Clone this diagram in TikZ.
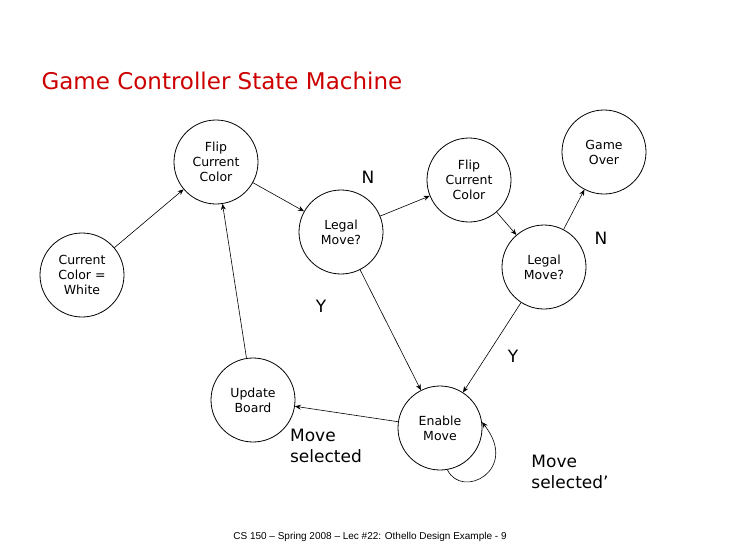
\documentclass[tikz,border=0pt]{standalone}
\usepackage{fontspec}
\setmainfont{DejaVu Sans}
\newfontfamily\footfont{Liberation Sans}
\usetikzlibrary{arrows.meta}
\begin{document}
\begin{tikzpicture}[x=1pt,y=-1pt,
    state/.style={circle,draw,thick,minimum size=84pt,inner sep=0pt,align=center,font=\fontsize{12.5}{15}\selectfont},
    trans/.style={draw,semithick,-{Stealth[length=6pt,width=5pt]}},
    cond/.style={font=\fontsize{17}{21}\selectfont,align=left}]
    \useasboundingbox (0,0) rectangle (730,547);

    \node[font=\fontsize{23}{27}\selectfont,text=red!80!black,anchor=west] (title) at (38,81) {Game Controller State Machine};

    \node[state] (ccw) at (82,275) {Current\\Color =\\White};
    \node[state] (flipa) at (216,162) {Flip\\Current\\Color};
    \node[state] (legala) at (341,232) {Legal\\Move?};
    \node[state] (flipb) at (469,180) {Flip\\Current\\Color};
    \node[state] (over) at (604,152) {Game\\Over};
    \node[state] (legalb) at (544,267) {Legal\\Move?};
    \node[state] (update) at (253,400) {Update\\Board};
    \node[state] (enable) at (440,428) {Enable\\Move};

    \path[trans] (ccw) -- (flipa);
    \path[trans] (flipa) -- (legala);
    \path[trans] (legala) -- (flipb);
    \path[trans] (legala) -- (enable);
    \path[trans] (flipb) -- (legalb);
    \path[trans] (legalb) -- (over);
    \path[trans] (legalb) -- (enable);
    \path[trans] (enable) -- (update);
    \path[trans] (update) -- (flipa);
    \path[trans] (enable.-80) .. controls (462,500) and (520,470) .. (enable.8);

    \node[cond] (na) at (368,177) {N};
    \node[cond] (nb) at (601,238) {N};
    \node[cond] (ya) at (321,306) {Y};
    \node[cond] (yb) at (513,356) {Y};
    \node[cond] (sel) at (326,446) {Move\\selected};
    \node[cond] (nsel) at (570,472) {Move\\selected'};

    \node[font=\footfont\fontsize{10}{12}\selectfont] (foot) at (370,537) {CS 150 – Spring 2008 – Lec \#22: Othello Design Example - 9};
\end{tikzpicture}
\end{document}
